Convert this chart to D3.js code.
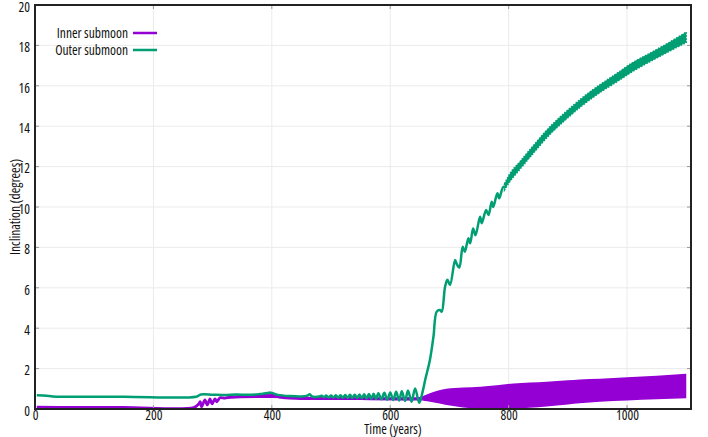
<!DOCTYPE html>
<html>
<head>
<meta charset="utf-8">
<script src="https://cdn.jsdelivr.net/npm/d3@7"></script>
<style>
  html, body { margin: 0; padding: 0; background: #fff; }
  svg { display: block; }
  text { font-family: "Open Sans", "Noto Sans", sans-serif; font-stretch: 80%; fill: #111; }
</style>
</head>
<body>
<svg id="chart" width="708" height="437"></svg>
<script>
// Tick values
const xTicks = [0, 200, 400, 600, 800, 1000];
const yTicks = [0, 2, 4, 6, 8, 10, 12, 14, 16, 18, 20];

// Inner submoon: inclination (degrees) vs time (years) before the band phase
const innerLine = [
  [3, 0.09], [60, 0.08], [150, 0.08], [268, 0.07], [276, 0.23], [279, 0.36], [281.5, 0.11],
  [287, 0.45], [291, 0.2], [295.6, 0.5], [299, 0.25], [304, 0.5], [307, 0.36],
  [312.5, 0.56], [321, 0.54], [330, 0.6], [350, 0.62], [370, 0.64], [385, 0.68],
  [397, 0.78], [408, 0.62], [425, 0.55], [450, 0.52], [470, 0.52], [500, 0.51],
  [550, 0.51], [600, 0.5], [640, 0.5]
];
// Inner submoon: envelope of the fast oscillation after ~650 yr
const innerBandTime  = [640, 650, 667, 695, 723, 752, 780, 808, 836, 864, 900, 920, 954, 1000, 1050, 1100];
const innerBandUpper = [0.58, 0.6, 0.78, 1.0, 1.06, 1.1, 1.18, 1.26, 1.31, 1.35, 1.42, 1.46, 1.5, 1.57, 1.65, 1.74];
const innerBandLower = [0.42, 0.42, 0.36, 0.2, 0.08, 0.03, 0.01, 0.02, 0.06, 0.12, 0.22, 0.28, 0.36, 0.42, 0.48, 0.53];
// Inner submoon: thin spread around the line 320-650 yr
const innerSpreadTime  = [320, 400, 480, 560, 640];
const innerSpreadUpper = [0.6, 0.7, 0.58, 0.57, 0.58];
const innerSpreadLower = [0.5, 0.55, 0.45, 0.44, 0.42];

// Outer submoon: inclination (degrees) vs time (years)
const outerLine = [
  [3, 0.68], [20, 0.66], [30, 0.62], [150, 0.61], [272, 0.61], [280, 0.72], [300, 0.71],
  [320, 0.69], [340, 0.72], [360, 0.7], [380, 0.74], [398, 0.8], [410, 0.7], [430, 0.64],
  [450, 0.62], [460, 0.66], [464, 0.73], [468, 0.62], [480, 0.62],
  [484, 0.66], [488, 0.58], [492, 0.67], [496, 0.57], [500, 0.67], [504, 0.57],
  [508, 0.68], [512, 0.56], [516, 0.68], [520, 0.56], [524, 0.69], [528, 0.55],
  [532, 0.7], [536, 0.55], [540, 0.71], [544, 0.54], [548, 0.72], [552, 0.53],
  [556, 0.73], [560, 0.52], [564, 0.74], [568, 0.51], [572, 0.76], [576, 0.5],
  [580, 0.78], [585, 0.48], [590, 0.8], [595, 0.46], [600, 0.82], [605, 0.44],
  [610, 0.85], [615, 0.42], [619.5, 0.88], [625, 0.4], [630, 0.92], [636, 0.36],
  [642, 1.02], [649, 0.31], [655, 0.9], [659, 1.44], [667, 2.43], [673, 3.58],
  [678.5, 4.82], [684, 4.9], [687, 4.82], [692.6, 6.05], [696.5, 6.4], [701, 6.14],
  [709.5, 7.38], [712, 7.2], [716.7, 7.0], [722.4, 8.03], [726, 7.78], [732, 8.45],
  [735, 8.2], [740, 8.94], [744, 8.6], [751.7, 9.52], [754.5, 9.2], [762, 9.85],
  [766, 9.6], [771.4, 10.26], [774, 10.0], [781, 10.68], [784, 10.43], [791, 11.0],
  [795, 10.95]
];
// Outer submoon: envelope of the fast oscillation after ~795 yr
const outerBandTime  = [793, 800, 820, 840, 870, 900, 926, 954, 983, 1010, 1039, 1067, 1100];
const outerBandUpper = [11.15, 11.55, 12.28, 12.98, 13.98, 14.8, 15.45, 16.05, 16.62, 17.16, 17.62, 18.08, 18.66];
const outerBandLower = [10.85, 11.17, 11.9, 12.6, 13.6, 14.42, 15.06, 15.66, 16.2, 16.72, 17.2, 17.64, 18.14];

const legendNames  = ["Inner submoon", "Outer submoon"];
const legendColors = ["#9400d3", "#009e73"];

const svg = d3.select("#chart");
const margin = { left: 35, right: 17, top: 5, bottom: 28 };
const W = 708, H = 437;
const FS = 13.5;

const x = d3.scaleLinear().domain([0, 1108]).range([margin.left, W - margin.right]);
const y = d3.scaleLinear().domain([0, 20]).range([H - margin.bottom, margin.top]);

// grid
svg.append("g").selectAll("line").data(xTicks.slice(1)).join("line")
  .attr("x1", d => x(d)).attr("x2", d => x(d))
  .attr("y1", y(0)).attr("y2", y(20))
  .attr("stroke", "#ebebeb").attr("stroke-width", 1);
svg.append("g").selectAll("line").data(yTicks.slice(1, -1)).join("line")
  .attr("x1", x(0)).attr("x2", x(1108))
  .attr("y1", d => y(d)).attr("y2", d => y(d))
  .attr("stroke", "#ebebeb").attr("stroke-width", 1);

svg.append("clipPath").attr("id", "plot").append("rect")
  .attr("x", x(0)).attr("y", y(20)).attr("width", x(1108) - x(0)).attr("height", y(0) - y(20));
const plot = svg.append("g").attr("clip-path", "url(#plot)");

const line = d3.line().x(d => x(d[0])).y(d => y(d[1])).curve(d3.curveCatmullRom.alpha(0.5));
const band = (t, up, lo) => d3.area()
  .x((d, i) => x(t[i])).y0((d, i) => y(lo[i])).y1((d, i) => y(up[i]))
  .curve(d3.curveMonotoneX)(t);

// Inner submoon
plot.append("path").attr("d", band(innerSpreadTime, innerSpreadUpper, innerSpreadLower))
  .attr("fill", legendColors[0]);
plot.append("path").attr("d", line(innerLine))
  .attr("fill", "none").attr("stroke", legendColors[0]).attr("stroke-width", 2.8)
  .attr("stroke-linejoin", "round");
plot.append("path").attr("d", band(innerBandTime, innerBandUpper, innerBandLower))
  .attr("fill", legendColors[0]);

// Outer submoon
plot.append("path").attr("d", line(outerLine))
  .attr("fill", "none").attr("stroke", legendColors[1]).attr("stroke-width", 2.5)
  .attr("stroke-linejoin", "round");
plot.append("path").attr("d", band(outerBandTime, outerBandUpper, outerBandLower))
  .attr("fill", legendColors[1]).attr("stroke", legendColors[1]).attr("stroke-width", 1.5)
  .attr("stroke-dasharray", "1.5,1.5");

// axes
const xAxis = d3.axisBottom(x).tickValues(xTicks).tickFormat(d3.format("d")).tickSize(0).tickPadding(0);
const gx = svg.append("g").attr("transform", `translate(0,${y(0)})`).call(xAxis);
gx.select(".domain").remove();
gx.selectAll("text").attr("font-size", FS).attr("font-family", null).attr("fill", "#111")
  .attr("y", 10.5).attr("dy", null);

const yAxis = d3.axisLeft(y).tickValues(yTicks).tickSize(0).tickPadding(5);
const gy = svg.append("g").attr("transform", `translate(${x(0)},2)`).call(yAxis);
gy.select(".domain").remove();
gy.selectAll("text").attr("font-size", FS).attr("font-family", null).attr("fill", "#111");

// tick marks on all four sides
const tk = svg.append("g").attr("stroke", "#999").attr("stroke-width", 1);
xTicks.forEach(d => {
  tk.append("line").attr("x1", x(d)).attr("x2", x(d)).attr("y1", y(0)).attr("y2", y(0) - 4);
  tk.append("line").attr("x1", x(d)).attr("x2", x(d)).attr("y1", y(20)).attr("y2", y(20) + 4);
});
yTicks.forEach(d => {
  tk.append("line").attr("x1", x(0)).attr("x2", x(0) + 4).attr("y1", y(d)).attr("y2", y(d));
  tk.append("line").attr("x1", x(1108)).attr("x2", x(1108) - 4).attr("y1", y(d)).attr("y2", y(d));
});

// border
svg.append("rect").attr("x", x(0)).attr("y", y(20))
  .attr("width", x(1108) - x(0)).attr("height", y(0) - y(20))
  .attr("fill", "none").attr("stroke", "#222").attr("stroke-width", 2);

// axis titles
svg.append("text").attr("x", 393).attr("y", 433.5).attr("text-anchor", "middle")
  .attr("font-size", FS).text("Time (years)");
svg.append("text").attr("transform", "translate(20,207) rotate(-90)").attr("text-anchor", "middle")
  .attr("font-size", FS).text("Inclination (degrees)");

// legend
const lg = svg.append("g");
legendNames.forEach((name, i) => {
  const yy = 33 + i * 17;
  lg.append("text").attr("x", 128).attr("y", yy).attr("dy", "0.35em").attr("text-anchor", "end")
    .attr("font-size", FS).text(name);
  lg.append("line").attr("x1", 133).attr("x2", 157).attr("y1", yy).attr("y2", yy)
    .attr("stroke", legendColors[i]).attr("stroke-width", 2.5);
});
</script>
</body>
</html>
